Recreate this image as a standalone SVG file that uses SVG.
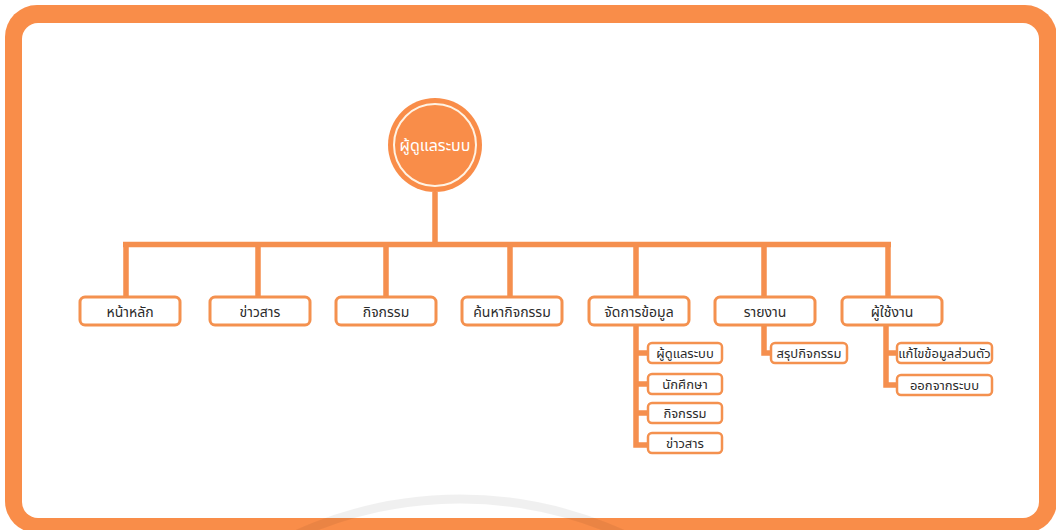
<svg xmlns="http://www.w3.org/2000/svg" width="1056" height="530" viewBox="0 0 1056 530">
<style>
  .frame{fill:#F98D49}
  .inner{fill:#FFFFFF}
  .conn{fill:none;stroke:#F58F4E;stroke-width:5.5;stroke-linejoin:miter;stroke-linecap:butt}
  .box{fill:#FFFFFF;stroke:#F4914F;stroke-width:3}
  .sub{fill:#FFFFFF;stroke:#F4914F;stroke-width:2.5}
  .t{font-family:"Noto Sans","Noto Sans Thai","Loma","Garuda",sans-serif;font-size:14px;fill:#2b2b2b;text-anchor:middle;dominant-baseline:central}
  .ts{font-family:"Noto Sans","Noto Sans Thai","Loma","Garuda",sans-serif;font-size:13px;fill:#2b2b2b;text-anchor:middle;dominant-baseline:central}
  .troot{font-family:"Noto Sans","Noto Sans Thai","Loma","Garuda",sans-serif;font-size:16px;fill:#FFFFFF;text-anchor:middle;dominant-baseline:central}
</style>
<rect width="1056" height="530" fill="#FFFFFF"/>
<rect class="frame" x="5" y="5" width="1052" height="528" rx="32"/>
<rect class="inner" x="22" y="23" width="1017" height="495" rx="16"/>
<circle cx="460" cy="893" r="394" fill="none" stroke="#000000" stroke-opacity="0.06" stroke-width="9"/>

<g id="connectors">
  <path class="conn" d="M435,192 V244.5"/>
  <path class="conn" d="M123,244.5 H891"/>
  <path class="conn" d="M126,244.5 V297 M258,244.5 V297 M386,244.5 V297 M510,244.5 V297 M636,244.5 V297 M764,244.5 V297 M888,244.5 V297"/>
  <path class="conn" d="M636,325 V445 H648 M636,353 H648 M636,384 H648 M636,413 H648"/>
  <path class="conn" d="M764,325 V353 H771"/>
  <path class="conn" d="M886,325 V385 H897 M886,353 H897"/>
</g>

<g id="root">
  <circle cx="435" cy="145" r="47" fill="#F98D49"/>
  <circle cx="435" cy="145" r="41" fill="none" stroke="#FFF3E4" stroke-width="2"/>
  <text class="troot" x="435" y="145">ผู้ดูแลระบบ</text>
</g>

<g id="n-home"><rect class="box" x="80" y="297" width="100" height="28" rx="5"/><text class="t" x="130" y="311">หน้าหลัก</text></g>
<g id="n-news"><rect class="box" x="210" y="297" width="100" height="28" rx="5"/><text class="t" x="260" y="311">ข่าวสาร</text></g>
<g id="n-activity"><rect class="box" x="336" y="297" width="100" height="28" rx="5"/><text class="t" x="386" y="311">กิจกรรม</text></g>
<g id="n-search"><rect class="box" x="462" y="297" width="100" height="28" rx="5"/><text class="t" x="512" y="311">ค้นหากิจกรรม</text></g>
<g id="n-manage"><rect class="box" x="589" y="297" width="100" height="28" rx="5"/><text class="t" x="639" y="311">จัดการข้อมูล</text></g>
<g id="n-report"><rect class="box" x="715" y="297" width="100" height="28" rx="5"/><text class="t" x="765" y="311">รายงาน</text></g>
<g id="n-user"><rect class="box" x="842" y="297" width="100" height="28" rx="5"/><text class="t" x="892" y="311">ผู้ใช้งาน</text></g>

<g id="n-m-admin"><rect class="sub" x="648" y="343" width="74" height="20" rx="4"/><text class="ts" x="685" y="353">ผู้ดูแลระบบ</text></g>
<g id="n-m-student"><rect class="sub" x="648" y="374" width="74" height="20" rx="4"/><text class="ts" x="685" y="384">นักศึกษา</text></g>
<g id="n-m-activity"><rect class="sub" x="648" y="403" width="74" height="20" rx="4"/><text class="ts" x="685" y="413">กิจกรรม</text></g>
<g id="n-m-news"><rect class="sub" x="648" y="433" width="74" height="20" rx="4"/><text class="ts" x="685" y="443">ข่าวสาร</text></g>

<g id="n-r-summary"><rect class="sub" x="771" y="343" width="76" height="20" rx="4"/><text class="ts" x="809" y="353">สรุปกิจกรรม</text></g>

<g id="n-u-edit"><rect class="sub" x="897" y="343" width="95" height="20" rx="4"/><text class="ts" x="944.5" y="353">แก้ไขข้อมูลส่วนตัว</text></g>
<g id="n-u-logout"><rect class="sub" x="897" y="375" width="95" height="20" rx="4"/><text class="ts" x="944.5" y="385">ออกจากระบบ</text></g>
</svg>
